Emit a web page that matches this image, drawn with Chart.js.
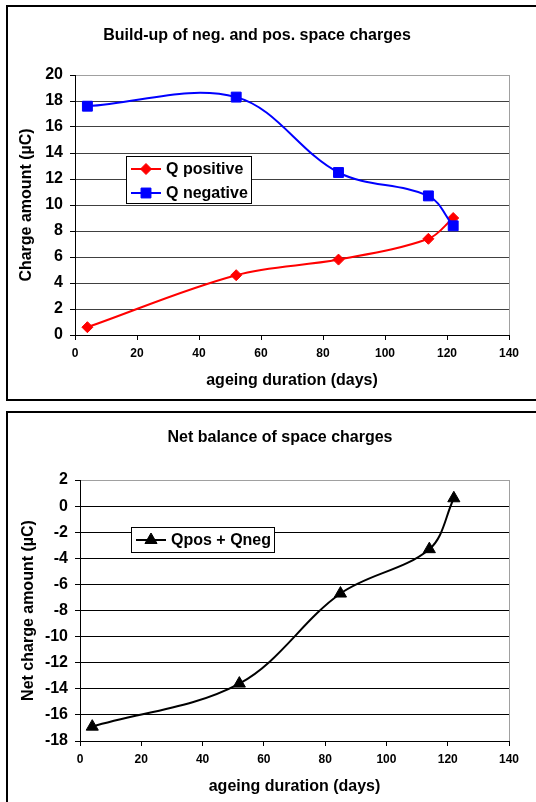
<!DOCTYPE html>
<html>
<head>
<meta charset="utf-8">
<script src="https://cdn.jsdelivr.net/npm/chart.js@4.4.0/dist/chart.umd.min.js"></script>
<style>
html, body { margin: 0; padding: 0; overflow: hidden; background: #fff; width: 536px; height: 802px; }
.frame { position: absolute; border: 2px solid #000; box-sizing: border-box; }
canvas { position: absolute; left: 0; }
</style>
</head>
<body>
<div class="frame" style="left:6px;top:5px;width:560px;height:396px"></div>
<div class="frame" style="left:6px;top:411px;width:560px;height:420px"></div>
<canvas id="chartTop" width="536" height="400" style="top:0"></canvas>
<canvas id="chartBottom" width="536" height="402" style="top:400px"></canvas>
<script>
//data
const days = [4, 52, 85, 114, 122];
const qPositive = [0.6, 4.6, 5.8, 7.4, 9.0];
const qNegative = [17.6, 18.3, 12.5, 10.7, 8.4];
const qNet = [-16.9, -13.6, -6.7, -3.3, 0.6];

const xRange = [0, 140];
const topRange = [0, 20];
const bottomRange = [-18, 2];

const fontFamily = 'Arial, "Liberation Sans", sans-serif';
Chart.defaults.font.family = fontFamily;
Chart.defaults.font.weight = 'bold';
Chart.defaults.color = '#000';

const points = (ys) => days.map((d, i) => ({ x: d, y: ys[i] }));

//title, gray frame and the legend box inside the plot
const chartText = {
    id: 'chartText',
    beforeDatasetsDraw(chart) {
        const ctx = chart.ctx;
        const area = chart.chartArea;
        ctx.save();
        ctx.strokeStyle = '#a0a0a0';
        ctx.lineWidth = 1;
        ctx.beginPath();
        ctx.moveTo(Math.round(area.right) + 0.5, area.top);
        ctx.lineTo(Math.round(area.right) + 0.5, area.bottom);
        ctx.stroke();
        ctx.restore();
    },
    afterDraw(chart, args, opts) {
        const ctx = chart.ctx;
        ctx.save();
        ctx.fillStyle = '#000';
        ctx.font = 'bold 16px ' + fontFamily;
        ctx.textAlign = 'center';
        ctx.textBaseline = 'middle';
        ctx.fillText(opts.title, opts.titleX, opts.titleY);

        const L = opts.legend;
        ctx.fillStyle = '#fff';
        ctx.fillRect(L.x, L.y, L.w, L.h);
        ctx.strokeStyle = '#000';
        ctx.lineWidth = 1;
        ctx.strokeRect(L.x + 0.5, L.y + 0.5, L.w, L.h);

        chart.data.datasets.forEach((ds, i) => {
            const y = L.y + L.rowTop + i * L.rowGap;
            ctx.strokeStyle = ds.borderColor;
            ctx.lineWidth = 2;
            ctx.beginPath();
            ctx.moveTo(L.x + L.lineStart, y);
            ctx.lineTo(L.x + L.lineEnd, y);
            ctx.stroke();
            ctx.fillStyle = ds.backgroundColor;
            ctx.strokeStyle = ds.borderColor;
            ctx.lineWidth = 1;
            Chart.helpers.drawPoint(ctx, {
                pointStyle: ds.pointStyle,
                radius: ds.pointRadius,
                rotation: 0,
                borderWidth: 1
            }, L.x + (L.lineStart + L.lineEnd) / 2, y);
            ctx.fillStyle = '#000';
            ctx.font = 'bold 16px ' + fontFamily;
            ctx.textAlign = 'left';
            ctx.textBaseline = 'middle';
            ctx.fillText(ds.label, L.x + L.textX, y + 1);
        });
        ctx.restore();
    }
};

function makeScales(yRange, yTitle, gridColor, yWidth, yTitlePad, xHeight, xTitlePad) {
    return {
        x: {
            type: 'linear',
            min: xRange[0],
            max: xRange[1],
            ticks: { stepSize: 20, autoSkip: false, maxRotation: 0, padding: 6, font: { size: 12, weight: 'bold' } },
            grid: { drawOnChartArea: false, drawTicks: true, tickLength: 5, color: '#000' },
            border: { color: '#000', width: 1 },
            title: { display: true, text: 'ageing duration (days)', font: { size: 16, weight: 'bold' }, padding: { top: 0, bottom: xTitlePad } },
            afterFit: (scale) => { scale.height = xHeight; }
        },
        y: {
            min: yRange[0],
            max: yRange[1],
            ticks: { stepSize: 2, autoSkip: false, padding: 7, font: { size: 16, weight: 'bold' } },
            grid: {
                color: (c) => (c.tick && c.tick.value === yRange[1]) ? '#a0a0a0' : gridColor,
                tickColor: '#000',
                tickLength: 5
            },
            border: { color: '#000', width: 1 },
            title: { display: true, text: yTitle, font: { size: 16, weight: 'bold' }, padding: { top: yTitlePad, bottom: 0 } },
            afterFit: (scale) => { scale.width = yWidth; }
        }
    };
}

//top chart: positive and negative charges
const configTop = {
    type: 'line',
    data: {
        datasets: [
        {
            label: 'Q positive',
            data: points(qPositive),
            borderColor: '#ff0000',
            backgroundColor: '#ff0000',
            borderWidth: 2,
            pointStyle: 'rectRot',
            pointRadius: 5.5,
            pointBorderWidth: 1,
            tension: 0.35,
            order: 1
        },
        {
            label: 'Q negative',
            data: points(qNegative),
            borderColor: '#0000ff',
            backgroundColor: '#0000ff',
            borderWidth: 2,
            pointStyle: 'rect',
            pointRadius: 7,
            pointBorderWidth: 1,
            tension: 0.35,
            order: 0
        },
        ],
    },
    options: {
        responsive: false,
        animation: false,
        events: [],
        layout: { padding: { top: 75, left: 0, right: 27, bottom: 0 } },
        scales: makeScales(topRange, 'Charge amount (µC)', '#404040', 75, 17, 65, 10),
        plugins: {
            legend: { display: false },
            tooltip: { enabled: false },
            chartText: {
                title: 'Build-up of neg. and pos. space charges',
                titleX: 257,
                titleY: 36,
                legend: { x: 126, y: 156, w: 125, h: 47, rowTop: 13, rowGap: 24, lineStart: 5, lineEnd: 35, textX: 40 }
            }
        }
    },
    plugins: [chartText]
};

//bottom chart: net balance
const configBottom = {
    type: 'line',
    data: {
        datasets: [
        {
            label: 'Qpos + Qneg',
            data: points(qNet),
            borderColor: '#000',
            backgroundColor: '#000',
            borderWidth: 2,
            pointStyle: 'triangle',
            pointRadius: 7,
            pointBorderWidth: 1,
            tension: 0.35
        },
        ],
    },
    options: {
        responsive: false,
        animation: false,
        events: [],
        layout: { padding: { top: 80, left: 0, right: 27, bottom: 0 } },
        scales: makeScales(bottomRange, 'Net charge amount (µC)', '#000', 80, 19, 61, 6),
        plugins: {
            legend: { display: false },
            tooltip: { enabled: false },
            chartText: {
                title: 'Net balance of space charges',
                titleX: 280,
                titleY: 38,
                legend: { x: 131, y: 127, w: 143, h: 25, rowTop: 13, rowGap: 0, lineStart: 5, lineEnd: 35, textX: 40 }
            }
        }
    },
    plugins: [chartText]
};

var chartTop = new Chart(document.getElementById('chartTop'), configTop);
var chartBottom = new Chart(document.getElementById('chartBottom'), configBottom);
</script>
</body>
</html>
